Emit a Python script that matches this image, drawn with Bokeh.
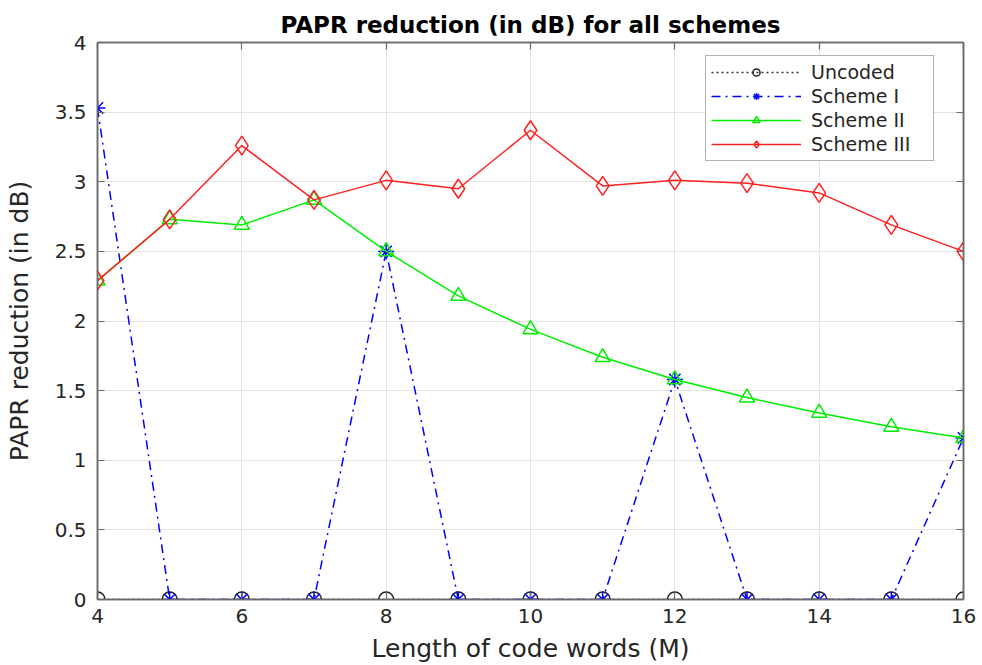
from bokeh.plotting import figure
from bokeh.models import LinearAxis, Range1d, Legend, LegendItem, FixedTicker
from bokeh.embed import file_html
from bokeh.resources import INLINE

M = [4, 5, 6, 7, 8, 9, 10, 11, 12, 13, 14, 15, 16]
uncoded = [0, 0, 0, 0, 0, 0, 0, 0, 0, 0, 0, 0, 0]
scheme1 = [3.53, 0, 0, 0, 2.50, 0, 0, 0, 1.58, 0, 0, 0, 1.16]
scheme2 = [2.29, 2.73, 2.69, 2.87, 2.50, 2.18, 1.94, 1.74, 1.58, 1.45, 1.34, 1.24, 1.16]
scheme3 = [2.29, 2.73, 3.26, 2.87, 3.01, 2.95, 3.37, 2.97, 3.01, 2.99, 2.92, 2.69, 2.50]
x_ticks = [4, 6, 8, 10, 12, 14, 16]
y_ticks = [0, 0.5, 1, 1.5, 2, 2.5, 3, 3.5, 4]

FONT = "DejaVu Sans"
TXT = "#262626"
AX = "#6a6a6a"

p = figure(width=982, height=665, output_backend="svg", toolbar_location=None,
           x_range=Range1d(4, 16), y_range=Range1d(0, 4),
           min_border_left=97, min_border_right=19, min_border_top=42, min_border_bottom=66)

p.title.text = "PAPR reduction (in dB) for all schemes"
p.title.align = "center"
p.title.text_font = FONT
p.title.text_font_size = "23px"
p.title.text_font_style = "bold"
p.title.text_color = "black"
p.title.offset = 0
p.title.standoff = 9

p.outline_line_color = AX
p.outline_line_width = 1.5
p.background_fill_color = "white"
p.border_fill_color = "white"

for ax in (p.xaxis[0], p.yaxis[0]):
    ax.major_tick_in = 7
    ax.major_tick_out = 0
    ax.minor_tick_line_color = None
    ax.axis_line_color = AX
    ax.axis_line_width = 1.5
    ax.major_tick_line_color = AX
    ax.major_tick_line_width = 1.2
    ax.major_label_text_font = FONT
    ax.major_label_text_font_size = "20px"
    ax.major_label_text_color = TXT
    ax.axis_label_text_font = FONT
    ax.axis_label_text_font_size = "25px"
    ax.axis_label_text_font_style = "normal"
    ax.axis_label_text_color = TXT

p.xaxis.ticker = FixedTicker(ticks=x_ticks)
p.yaxis.ticker = FixedTicker(ticks=y_ticks)
p.xaxis.axis_label = "Length of code words (M)"
p.yaxis.axis_label = "PAPR reduction (in dB)"
p.xaxis.major_label_standoff = 9
p.yaxis.major_label_standoff = 11
p.xaxis.axis_label_standoff = 8
p.yaxis.axis_label_standoff = 18

for loc, ticks in (("right", y_ticks), ("above", x_ticks)):
    a = LinearAxis(ticker=FixedTicker(ticks=ticks))
    a.major_tick_in = 7
    a.major_tick_out = 0
    a.minor_tick_line_color = None
    a.axis_line_color = AX
    a.axis_line_width = 1.5
    a.major_tick_line_color = AX
    a.major_tick_line_width = 1.2
    a.major_label_text_font_size = "1px"
    a.major_label_text_color = None
    a.major_label_standoff = 0
    p.add_layout(a, loc)

p.grid.grid_line_color = "#e3e3e3"
p.grid.grid_line_width = 1
p.xgrid.ticker = FixedTicker(ticks=x_ticks)
p.ygrid.ticker = FixedTicker(ticks=y_ticks)

l0 = p.line(M, uncoded, line_color="#333333", line_width=1.5, line_dash="2 3")
m0 = p.scatter(M, uncoded, marker="circle", size=15, fill_color=None,
               line_color="#222222", line_width=1.5)
l1 = p.line(M, scheme1, line_color="blue", line_width=1.5, line_dash="9 5 2 5")
m1 = p.scatter(M, scheme1, marker="asterisk", size=16, line_color="blue", line_width=1.5)
l2 = p.line(M, scheme2, line_color="#00ee00", line_width=1.5)
m2 = p.scatter(M, scheme2, marker="triangle", size=15, fill_color=None,
               line_color="#00ee00", line_width=1.5)
l3 = p.line(M, scheme3, line_color="#ff2020", line_width=1.5)
m3 = p.scatter(M, scheme3, marker="diamond", size=19, fill_color=None,
               line_color="#ff2020", line_width=1.5)

legend = Legend(items=[
    LegendItem(label="Uncoded", renderers=[l0, m0]),
    LegendItem(label="Scheme I", renderers=[l1, m1]),
    LegendItem(label="Scheme II", renderers=[l2, m2]),
    LegendItem(label="Scheme III", renderers=[l3, m3]),
], location=(608, 438))
legend.label_text_font = FONT
legend.label_text_font_size = "19px"
legend.label_text_color = TXT
legend.glyph_width = 90
legend.glyph_height = 18
legend.label_height = 18
legend.label_width = 117
legend.spacing = 2
legend.padding = 5
legend.margin = 0
legend.label_standoff = 10
legend.border_line_color = AX
legend.border_line_width = 1.5
legend.background_fill_color = "white"
legend.background_fill_alpha = 1
p.add_layout(legend, "center")

open("out.html", "w").write(file_html(p, INLINE))
